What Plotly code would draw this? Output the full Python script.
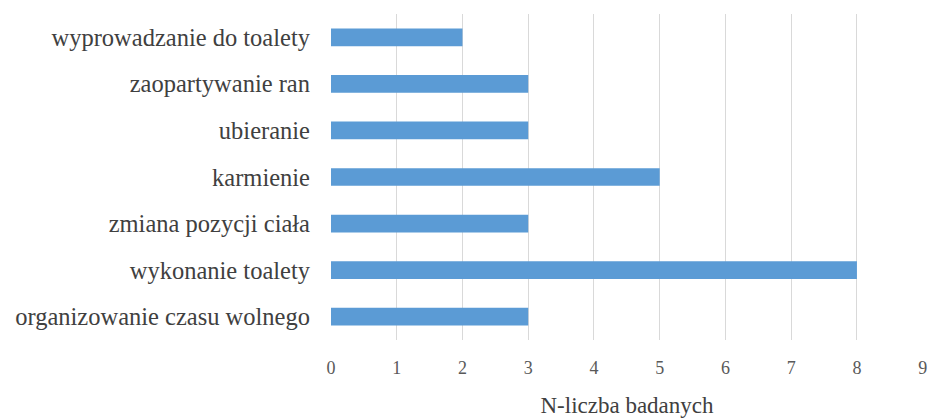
import plotly.graph_objects as go

categories = ["organizowanie czasu wolnego", "wykonanie toalety", "zmiana pozycji ciała",
              "karmienie", "ubieranie", "zaopartywanie ran", "wyprowadzanie do toalety"]
values = [3, 8, 3, 5, 3, 3, 2]
x_title = "N-liczba badanych"

fig = go.Figure(go.Bar(
    x=values, y=categories, orientation="h",
    marker=dict(color="#5B9BD5", line=dict(width=0)),
    width=0.38,
))

fig.update_layout(
    width=928, height=419,
    margin=dict(l=331, r=5, t=14, b=79),
    plot_bgcolor="white", paper_bgcolor="white",
    showlegend=False,
    font=dict(family="Liberation Serif", color="#404040"),
    bargap=0.62,
)
fig.update_xaxes(
    range=[0, 9.005], tickvals=list(range(10)),
    showgrid=True, gridcolor="#D9D9D9", gridwidth=1,
    zeroline=False, showline=False, ticks="",
    tickfont=dict(size=18, color="#595959", family="Liberation Serif"),
    ticklabelstandoff=15,
    automargin=False,
    title=dict(text=x_title, font=dict(size=23, color="#404040", family="Liberation Serif"), standoff=19),
)
fig.update_yaxes(
    categoryorder="array", categoryarray=categories,
    range=[-0.5, 6.5],
    showgrid=False, zeroline=False, showline=False, ticks="",
    tickfont=dict(size=24.5, color="#404040", family="Liberation Serif"),
    ticklabelstandoff=20,
    automargin=False,
)

fig.write_html("out.html",
               config={"displayModeBar": False},
               post_script="document.body.style.margin='0';document.body.style.overflow='hidden';")
